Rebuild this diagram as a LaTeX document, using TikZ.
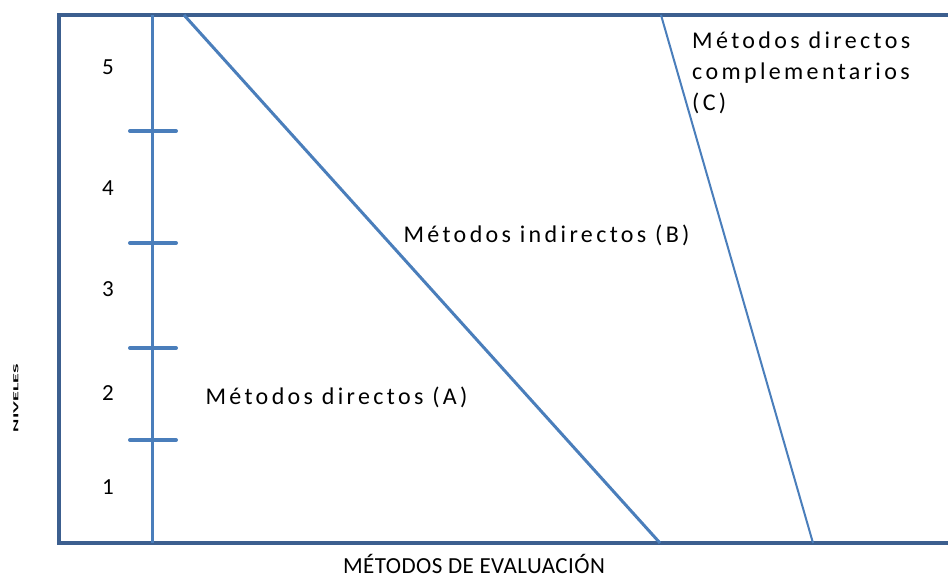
\documentclass[tikz,border=0pt]{standalone}
\usepackage{fontspec}
\setmainfont{Carlito}
\usepackage{graphicx}
\usetikzlibrary{positioning}
\definecolor{marco}{HTML}{3C5F8F}
\definecolor{eje}{HTML}{4A7EBB}
\tikzset{
x=1pt, y=-1pt, % coordinates are in pixels of the page
borde/.style={draw=marco, line width=4pt}, % the outer frame
linea/.style={draw=eje, line width=3pt}, % axis and dividing lines
marca/.style={draw=eje, line width=4pt, line cap=round}, % ticks on the axis
every node/.style={font=\fontsize{24}{31}\selectfont\addfontfeatures{LetterSpace=14}}, % sets the text of each label
nivel/.style={font=\fontsize{23}{31}\selectfont}, % the level numbers
}

\begin{document}
\begin{tikzpicture}
    \useasboundingbox (0,0) rectangle (948,578);

    % frame, open to the right
    \draw[borde] (952,15) -- (59,15) -- (59,543) -- (952,543);

    % axis and its ticks
    \coordinate (ejearriba) at (152,15);
    \coordinate (ejeabajo) at (152,543);
    \draw[linea] (ejearriba) -- (ejeabajo);
    \foreach \y in {131,243,348,440}
        \draw[marca] (130,\y) -- (176,\y);

    % level numbers
    \node[nivel] (n5) at (108,67) {5};
    \node[nivel] (n4) at (108,188) {4};
    \node[nivel] (n3) at (108,289) {3};
    \node[nivel] (n2) at (108,393) {2};
    \node[nivel] (n1) at (108,487) {1};

    % dividing lines
    \coordinate (b1) at (184,15);
    \coordinate (b2) at (660,543);
    \coordinate (c1) at (661,15);
    \coordinate (c2) at (813,543);
    \draw[linea] (b1) -- (b2);
    \draw[linea, line width=2pt] (c1) -- (c2);

    % labels
    \node[anchor=base west] (metA) at (202,404) {Métodos directos (A)};
    \node[anchor=base west] (metB) at (400,242) {Métodos indirectos (B)};
    \node[anchor=north west, align=left, inner sep=0pt] (metC) at (692,32)
        {Métodos directos\\complementarios\\(C)};
    \node[anchor=base, inner sep=0pt, font=\fontsize{23}{31}\selectfont\addfontfeatures{LetterSpace=2}]
        (eval) at (474,573) {MÉTODOS DE EVALUACIÓN};
    \node[rotate=90, inner sep=0pt, font=\normalsize] (niveles) at (16,398)
        {\resizebox{68pt}{5pt}{\bfseries NIVELES}};

\end{tikzpicture}
\end{document}
